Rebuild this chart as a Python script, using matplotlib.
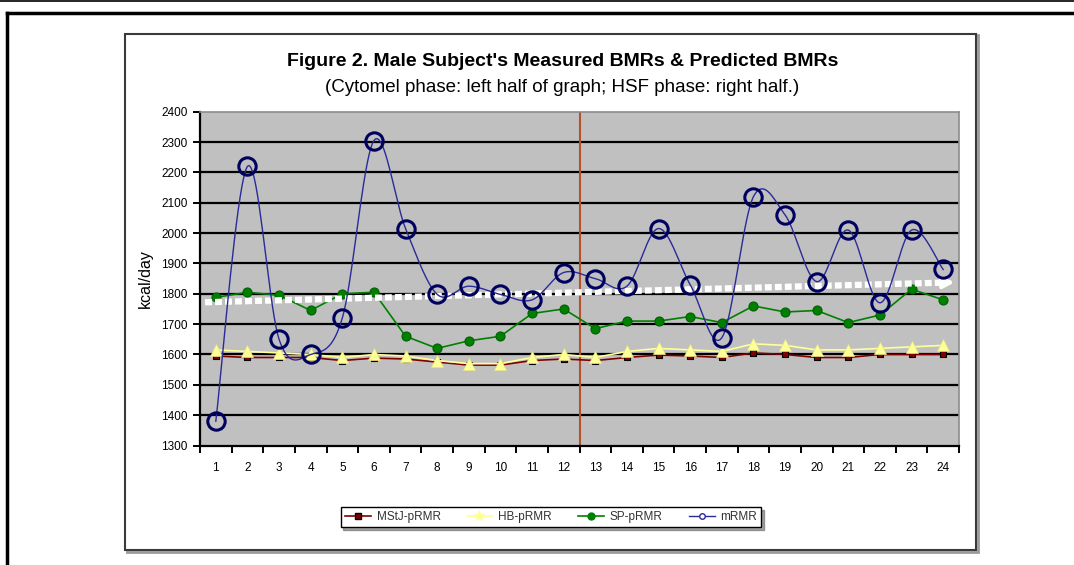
import matplotlib
matplotlib.use("Agg")
import matplotlib.pyplot as plt
import numpy as np
from matplotlib.patches import Rectangle
from matplotlib.lines import Line2D

plt.rcParams['font.family'] = ['Liberation Sans', 'DejaVu Sans']

days = list(range(1, 25))
mstj = [1595, 1590, 1590, 1590, 1580, 1588, 1585, 1575, 1565, 1565, 1580, 1585,
        1580, 1590, 1598, 1595, 1590, 1605, 1600, 1590, 1590, 1600, 1600, 1600]
hb = [1615, 1610, 1605, 1600, 1590, 1600, 1595, 1580, 1570, 1570, 1590, 1600,
      1590, 1610, 1620, 1615, 1610, 1635, 1630, 1615, 1615, 1620, 1625, 1630]
sp = [1788, 1805, 1795, 1745, 1800, 1805, 1660, 1620, 1645, 1660, 1735, 1750,
      1685, 1710, 1710, 1725, 1705, 1760, 1740, 1745, 1705, 1730, 1815, 1780]
mrmr = [1380, 2220, 1650, 1600, 1720, 2305, 2015, 1798, 1825, 1798, 1780, 1870,
        1850, 1825, 2015, 1830, 1655, 2120, 2060, 1840, 2010, 1770, 2010, 1880]
trend = [1772, 1838]          # hand drawn arrow, start and end value
phase_split = 12.5            # between day 12 and 13
series_names = ['MStJ-pRMR', 'HB-pRMR', 'SP-pRMR', 'mRMR']


def smooth(xs, ys, n=20):
    # excel style smoothed line (bezier through the points)
    p = np.column_stack([xs, ys]).astype(float)
    out = [p[0]]
    for i in range(len(p) - 1):
        p0 = p[i - 1] if i > 0 else p[i]
        p3 = p[i + 2] if i + 2 < len(p) else p[i + 1]
        c1 = p[i] + (p[i + 1] - p0) / 6
        c2 = p[i + 1] - (p3 - p[i]) / 6
        t = np.linspace(0, 1, n)[1:, None]
        seg = ((1 - t) ** 3) * p[i] + 3 * ((1 - t) ** 2) * t * c1 \
            + 3 * (1 - t) * t ** 2 * c2 + t ** 3 * p[i + 1]
        out.extend(seg)
    out = np.array(out)
    return out[:, 0], out[:, 1]


fig = plt.figure(figsize=(10.74, 5.65), dpi=100)

# page frame lines
fig.add_artist(Line2D([0, 1], [0.998, 0.998], color='black', lw=1.2, zorder=-5))
fig.add_artist(Line2D([7.5 / 1074, 1.0], [1 - 13 / 565, 1 - 13 / 565], color='black', lw=2.5, zorder=-5))
fig.add_artist(Line2D([7.5 / 1074, 7.5 / 1074], [0, 1 - 13 / 565], color='black', lw=2.5, zorder=-5))
# chart box with shadow
fig.add_artist(Rectangle((127 / 1074, 1 - 552 / 565), 851 / 1074, 517 / 565,
                         fill=False, edgecolor='#9a9a9a', lw=2.0, zorder=-4))
fig.add_artist(Rectangle((125 / 1074, 1 - 550 / 565), 851 / 1074, 516 / 565,
                         facecolor='white', edgecolor='#3a3a3a', lw=1.5, zorder=-3))

ax = fig.add_axes([200 / 1074, 1 - 445.5 / 565, 759 / 1074, 333.8 / 565])
ax.set_facecolor('#c0c0c0')
ax.set_xlim(0.5, 24.5)
ax.set_ylim(1300, 2400)

yt = np.arange(1300, 2401, 100)
for v in yt[1:-1]:
    ax.axhline(v, color='black', lw=1.6, zorder=1)

ax.axvline(phase_split, color='#b4502a', lw=1.5, zorder=2)

ax.plot(days, mstj, color='#800000', lw=1.2, marker='s', ms=5,
        mfc='#800000', mec='black', mew=0.8, zorder=3)
ax.plot(days, hb, color='#ffff99', lw=1.2, marker='^', ms=8.5,
        mfc='#ffff99', mec='#e6e680', mew=0.5, zorder=4)
ax.plot(days, sp, color='#008000', lw=1.2, marker='o', ms=6.5,
        mfc='#008000', mec='#006000', mew=0.8, zorder=5)

# trend arrow
tx = [0.66, 24.45]
slope = (trend[1] - trend[0]) / (tx[1] - tx[0])
ax.plot([tx[0], tx[1] - 0.5], [trend[0], trend[0] + slope * (tx[1] - 0.5 - tx[0])],
        color='white', lw=4.5, ls=(0, (1.1, 0.5)), solid_capstyle='butt', zorder=6)
ax.annotate('', xy=(tx[1], trend[1]), xytext=(tx[1] - 0.6, trend[1] - slope * 0.6),
            arrowprops=dict(arrowstyle='-|>', color='white', lw=3,
                            mutation_scale=16), zorder=6)

sx, sy = smooth(days, mrmr)
ax.plot(sx, sy, color='#2a2a99', lw=1.0, zorder=7)
ax.plot(days, mrmr, ls='none', marker='o', ms=12.5, mfc='none',
        mec='#000060', mew=2.2, zorder=8)

ax.set_yticks(yt)
ax.set_yticklabels([str(v) for v in yt], fontsize=8.5)
ax.set_xticks(days)
ax.set_xticklabels([str(d) for d in days], fontsize=8.5)
ax.set_xticks(np.arange(0.5, 25, 1), minor=True)
ax.tick_params(axis='x', which='major', length=0, pad=12)
ax.tick_params(axis='x', which='minor', length=5, width=1.4, color='black')
ax.tick_params(axis='y', length=5, width=1.4, pad=4)
for s in ['left', 'bottom']:
    ax.spines[s].set_linewidth(1.6)
for s in ['top', 'right']:
    ax.spines[s].set_color('#8c8c8c')
    ax.spines[s].set_linewidth(1.2)

ax.set_ylabel('kcal/day', fontsize=11.5, labelpad=6)

fig.text(0.5235, 1 - 62 / 565, "Figure 2. Male Subject's Measured BMRs & Predicted BMRs",
         ha='center', va='center', fontsize=14, fontweight='bold')
fig.text(0.5235, 1 - 88 / 565, "(Cytomel phase: left half of graph; HSF phase: right half.)",
         ha='center', va='center', fontsize=13.5)

handles = [
    Line2D([], [], color='#800000', lw=1.2, marker='s', ms=5, mfc='#800000', mec='black'),
    Line2D([], [], color='#ffff99', lw=1.2, marker='*', ms=8, mfc='#ffff99', mec='#ffff99'),
    Line2D([], [], color='#008000', lw=1.2, marker='o', ms=5, mfc='#008000', mec='#008000'),
    Line2D([], [], color='#2a2a99', lw=1.0, marker='o', ms=4, mfc='white', mec='#2a2a99'),
]
leg = fig.legend(handles, series_names, loc='center', bbox_to_anchor=(551 / 1074, 1 - 517 / 565),
                 ncol=4, fontsize=8.5, frameon=True, fancybox=False, shadow=True,
                 handlelength=2.2, columnspacing=2.2, handletextpad=0.5,
                 borderpad=0.35, edgecolor='black')
leg.get_frame().set_linewidth(1.0)
for t in leg.get_texts():
    t.set_color('#333333')

fig.savefig('out.png', dpi=100)
